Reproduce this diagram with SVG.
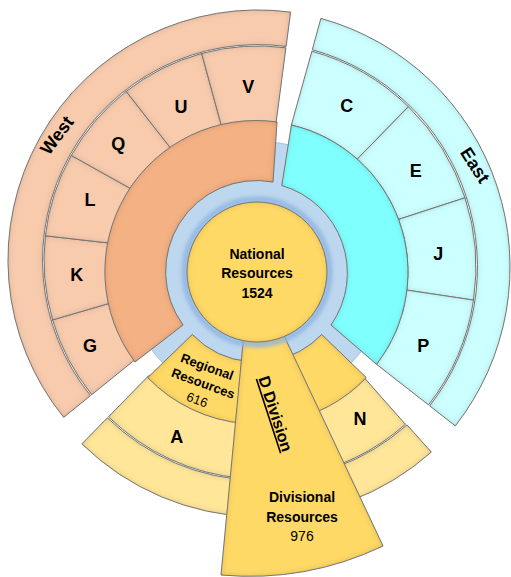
<svg xmlns="http://www.w3.org/2000/svg" width="511" height="577" viewBox="0 0 511 577">
<defs>
<filter id="inset" x="-5%" y="-5%" width="110%" height="110%">
<feGaussianBlur in="SourceAlpha" stdDeviation="3" result="b"/>
<feComposite in="SourceAlpha" in2="b" operator="out" result="edge"/>
<feFlood flood-color="#000" flood-opacity="0.35"/>
<feComposite in2="edge" operator="in" result="sh"/>
<feMerge><feMergeNode in="SourceGraphic"/><feMergeNode in="sh"/></feMerge>
</filter>
<filter id="glow" x="-20%" y="-20%" width="140%" height="140%"><feGaussianBlur stdDeviation="2"/></filter>
</defs>
<style>
path,circle.s{stroke:#7F7F7F;stroke-width:1;filter:url(#inset)}
.w1{fill:#F8CBAD}.w2{fill:#F4B183}
.e1{fill:#CCFFFF}.e2{fill:#80FFFF}
.y1{fill:#FFE699}.y2{fill:#FFD966}
text{font-family:"Liberation Sans",Arial,sans-serif;fill:#000;text-anchor:middle}
.lf{font-size:18px;font-weight:bold}
.b14{font-size:14px;font-weight:bold}
.n14{font-size:14px}
.b13{font-size:13px;font-weight:bold}
.n13{font-size:13px}
</style>
<g id="hub-ring"><circle cx="257" cy="272" r="131" fill="#BDD7EE" stroke="#A7C2DC" stroke-width="1"/></g>
<g id="west">
<g id="west-ring"><path class="w1" d="M63.7,417.3 A250 250 0 0 1 290.6,12.1 L286.1,46.4 A215.5 215.5 0 0 0 90.5,395.6 Z"/>
<text class="lf" transform="translate(56.7,135) rotate(-53)" y="6.5">West</text></g>
<g id="leaf-G"><path class="w1" d="M91.7,394.7 A214 214 0 0 1 52.6,319.9 L128.4,297.8 A135 135 0 0 0 153.1,345 Z"/><text class="lf" x="90" y="351.5">G</text></g>
<g id="leaf-K"><path class="w1" d="M52.6,319.9 A214 214 0 0 1 45.4,235.8 L123.9,244.7 A135 135 0 0 0 128.4,297.8 Z"/><text class="lf" x="76.7" y="280.5">K</text></g>
<g id="leaf-L"><path class="w1" d="M45.4,235.8 A214 214 0 0 1 71.3,155.4 L140.2,194 A135 135 0 0 0 123.9,244.7 Z"/><text class="lf" x="90" y="206">L</text></g>
<g id="leaf-Q"><path class="w1" d="M71.3,155.4 A214 214 0 0 1 126.2,91.4 L174.9,153.6 A135 135 0 0 0 140.2,194 Z"/><text class="lf" x="118.3" y="150">Q</text></g>
<g id="leaf-U"><path class="w1" d="M126.2,91.4 A214 214 0 0 1 201.7,53.5 L222.5,129.8 A135 135 0 0 0 174.9,153.6 Z"/><text class="lf" x="181" y="112.5">U</text></g>
<g id="leaf-V"><path class="w1" d="M201.7,53.5 A214 214 0 0 1 285.9,47.8 L275.6,126.2 A135 135 0 0 0 222.5,129.8 Z"/><text class="lf" x="248.3" y="93">V</text></g>
<g id="west-inner"><path class="w2" d="M277,122 A151 151 0 0 0 135,362 L183,325 A91 91 0 0 1 273,182 Z"/></g>
</g>
<g id="east">
<g id="east-ring"><path class="e1" d="M320.9,18.4 A258 258 0 0 1 455.3,425.9 L429.7,405.8 A225.5 225.5 0 0 0 312.3,49.7 Z"/>
<text class="lf" transform="translate(475.3,165) rotate(57)" y="6.5">East</text></g>
<g id="leaf-C"><path class="e1" d="M311.9,51.2 A224 224 0 0 1 408.4,106.7 L357.3,159.1 A151 151 0 0 0 291.4,125 Z"/><text class="lf" x="346.7" y="111.5">C</text></g>
<g id="leaf-E"><path class="e1" d="M408.4,106.7 A224 224 0 0 1 465,197.8 L398.6,219.4 A151 151 0 0 0 357.3,159.1 Z"/><text class="lf" x="415.7" y="177">E</text></g>
<g id="leaf-J"><path class="e1" d="M465,197.8 A224 224 0 0 1 473.5,300.1 L406.9,290.1 A151 151 0 0 0 398.6,219.4 Z"/><text class="lf" x="438.3" y="260">J</text></g>
<g id="leaf-P"><path class="e1" d="M473.5,300.1 A224 224 0 0 1 428.5,404.9 L376.5,364.3 A151 151 0 0 0 406.9,290.1 Z"/><text class="lf" x="423.3" y="351.5">P</text></g>
<g id="east-inner"><path class="e2" d="M291.4,125 A151 151 0 0 1 376.5,364.3 L331,325 A91 91 0 0 0 281.8,185.5 Z"/></g>
</g>
<g id="d-division">
<g id="d-ring"><path class="y1" d="M431.3,452.1 A256 256 0 0 1 81.9,443.9 L107.4,417.8 A219.5 219.5 0 0 0 407,424.9 Z"/></g>
<g id="leaf-A"><path class="y1" d="M242,478.2 A218 218 0 0 1 108.5,416.8 L149,375.3 A160 160 0 0 0 247,420.4 Z"/><text class="lf" x="176.7" y="443">A</text></g>
<g id="leaf-N"><path class="y1" d="M405.4,424.3 A218 218 0 0 1 298.8,475.7 L288.3,415.6 A157 157 0 0 0 365,378.6 Z"/><text class="lf" x="360" y="425">N</text></g>
<g id="regional"><path class="y2" d="M243.7,423.4 A152 152 0 0 1 147.7,377.6 L192.3,334.5 A90 90 0 0 0 249.2,361.7 Z"/>
<g transform="translate(204,381) rotate(20)"><text class="b13" x="-2" y="-10">Regional</text><text class="b13" x="0" y="7">Resources</text><text class="n13" x="0" y="24.5">616</text></g></g>
<g id="d-inner"><path class="y2" d="M366.3,377.6 A152 152 0 0 1 283.4,421.7 L272.6,360.6 A90 90 0 0 0 321.7,334.5 Z"/></g>
<g id="divisional"><path class="y2" d="M243.3,340 L221,575 A312 312 0 0 0 383,546 L284.2,336 A69.5 69.5 0 0 1 243.3,340 Z"/>
<text class="b14" transform="translate(275,414) rotate(72)" y="5" text-decoration="underline" style="font-size:16px">D Division</text>
<text class="b14" x="302" y="502">Divisional</text><text class="b14" x="302" y="522">Resources</text><text class="n14" x="302" y="541">976</text></g>
</g>
<g id="national">
<circle cx="257" cy="272" r="72.5" fill="none" stroke="#8DB4E2" stroke-width="5" filter="url(#glow)"/>
<circle class="s" cx="257" cy="272" r="70" fill="#FFD966"/>
<text class="b14" x="257" y="259">National</text><text class="b14" x="257" y="278">Resources</text><text class="b14" x="257" y="297.5">1524</text>
</g>
<g id="connectors"/>
</svg>
